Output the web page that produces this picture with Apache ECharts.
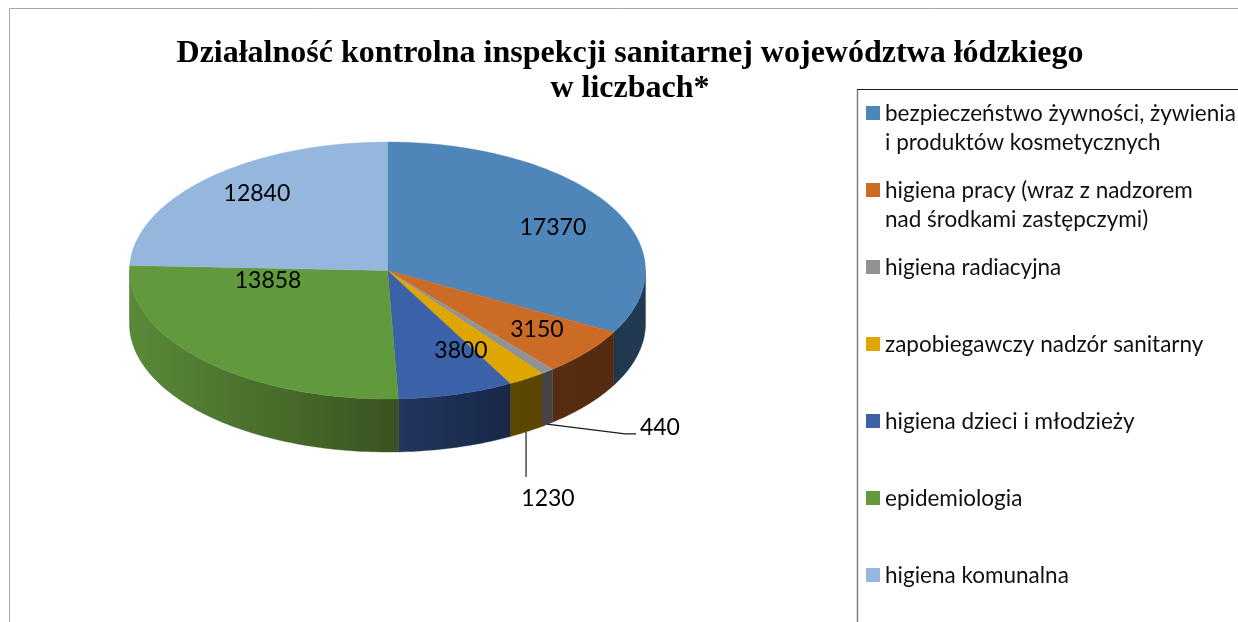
<!DOCTYPE html>
<html>
<head>
<meta charset="utf-8">
<title>Działalność kontrolna</title>
<style>
  html, body { margin: 0; padding: 0; background: #fff; }
  #chart { width: 1238px; height: 622px; }
</style>
<script src="https://cdn.jsdelivr.net/npm/echarts@6/dist/echarts.min.js"></script>
</head>
<body>
<div id="chart"></div>
<script>
// dane z wykresu
var titleText = 'Działalność kontrolna inspekcji sanitarnej województwa łódzkiego\nw liczbach*';
var categories = [
  'bezpieczeństwo żywności, żywienia\ni produktów kosmetycznych',
  'higiena pracy (wraz z nadzorem\nnad środkami zastępczymi)',
  'higiena radiacyjna',
  'zapobiegawczy nadzór sanitarny',
  'higiena dzieci i młodzieży',
  'epidemiologia',
  'higiena komunalna'
];
var values = [17370, 3150, 440, 1230, 3800, 13858, 12840];

// kolory: gora plastra i sciana boczna (lewa, prawa)
var topColors = ['#4e86b9', '#cc6b26', '#929292', '#e0a600', '#3b61a8', '#619a3c', '#96b7dd'];
var wallColors = [
  ['#1f3850', '#223a50'],
  ['#582c10', '#542b10'],
  ['#444444', '#444444'],
  ['#5c4800', '#5a4600'],
  ['#22365e', '#172848'],
  ['#5a8a38', '#3a5320'],
  ['#5a7ba0', '#5a7ba0']
];

// polozenie etykiet i linii odniesienia, w jednostkach osi (kolo jednostkowe)
var labelPos = [[0.641, 0.346], [0.579, -0.447], [1.056, -1.21], [0.622, -1.763], [0.285, -0.611], [-0.463, -0.066], [-0.506, 0.611]];
var leaders = {
  2: [[0.618, -1.195], [0.921, -1.272], [0.963, -1.272]],
  3: [[0.537, -1.257], [0.537, -1.607]]
};

var depth = 53; // wysokosc sciany w px
var total = values.reduce(function (a, b) { return a + b; }, 0);
var starts = [];
values.reduce(function (acc, v, i) { starts[i] = acc; return acc + v; }, 0);

function toAngle(v) { return v / total * 360; }

// punkty brzegu elipsy od kata a do kata b (0 = godzina 12, zgodnie z zegarem)
function rim(api, a, b) {
  var pts = [];
  var steps = Math.max(2, Math.ceil(b - a));
  for (var i = 0; i <= steps; i++) {
    var t = (a + (b - a) * i / steps) * Math.PI / 180;
    pts.push(api.coord([Math.sin(t), Math.cos(t)]));
  }
  return pts;
}

function makeRenderItem(idx) {
  return function (params, api) {
    var a = toAngle(starts[idx]);
    var b = toAngle(starts[idx] + api.value(0));
    var children = [];

    // sciana tylko z przodu, 90-270 stopni
    var wa = Math.max(a, 90), wb = Math.min(b, 270);
    if (wb > wa) {
      var upper = rim(api, wa, wb);
      var lower = upper.map(function (p) { return [p[0], p[1] + depth]; }).reverse();
      children.push({
        type: 'polygon',
        z2: 1,
        shape: { points: upper.concat(lower) },
        style: {
          fill: {
            type: 'linear', x: 0, y: 0, x2: 1, y2: 0,
            colorStops: [
              { offset: 0, color: wallColors[idx][0] },
              { offset: 1, color: wallColors[idx][1] }
            ]
          },
          stroke: wallColors[idx][1],
          lineWidth: 0.4
        }
      });
    }

    // gorna powierzchnia
    children.push({
      type: 'polygon',
      z2: 2,
      shape: { points: [api.coord([0, 0])].concat(rim(api, a, b)) },
      style: { fill: topColors[idx], stroke: topColors[idx], lineWidth: 0.4 }
    });

    if (leaders[idx]) {
      children.push({
        type: 'polyline',
        z2: 3,
        shape: { points: leaders[idx].map(function (p) { return api.coord(p); }) },
        style: { fill: null, stroke: '#1a1a1a', lineWidth: 1.2 }
      });
    }

    var lp = api.coord(labelPos[idx]);
    children.push({
      type: 'text',
      z2: 4,
      x: lp[0],
      y: lp[1] + 1.5,
      style: {
        text: String(api.value(0)),
        fill: '#000',
        font: '23px Lato',
        align: 'center',
        verticalAlign: 'middle'
      }
    });

    return { type: 'group', children: children };
  };
}

var chart = echarts.init(document.getElementById('chart'), null, { renderer: 'canvas' });

chart.setOption({
  animation: false,
  backgroundColor: '#fff',
  title: {
    text: titleText,
    left: 630,
    top: 36,
    padding: 0,
    textAlign: 'center',
    textStyle: {
      fontFamily: 'Liberation Serif',
      fontWeight: 'bold',
      fontSize: 32,
      lineHeight: 35,
      color: '#000'
    }
  },
  legend: {
    orient: 'vertical',
    left: 866,
    top: 99,
    padding: 0,
    itemGap: 19,
    itemWidth: 14,
    itemHeight: 44,
    selectedMode: false,
    // kwadrat na wysokosci pierwszego wiersza, reszta ikony pusta
    icon: 'path://M0 0H14V14H0Z M0 44L0 44Z',
    formatter: function (name) {
      return name.indexOf('\n') < 0 ? name + '\n ' : name;
    },
    textStyle: {
      fontFamily: 'Lato',
      fontSize: 22.5,
      lineHeight: 29,
      color: '#111'
    },
    data: categories
  },
  grid: { left: 129.5, top: 142, width: 516, height: 257 },
  xAxis: { type: 'value', min: -1, max: 1, show: false },
  yAxis: { type: 'value', min: -1, max: 1, show: false },
  graphic: [
    {
      type: 'polyline',
      shape: { points: [[9.5, 622], [9.5, 8.5], [1238, 8.5]] },
      style: { fill: null, stroke: '#a6a6a6', lineWidth: 1 }
    },
    {
      type: 'line',
      shape: { x1: 857.5, y1: 89, x2: 857.5, y2: 622 },
      style: { stroke: '#7f7f7f', lineWidth: 1.5 }
    },
    {
      type: 'line',
      shape: { x1: 857, y1: 89.5, x2: 1238, y2: 89.5 },
      style: { stroke: '#222', lineWidth: 1 }
    }
  ],
  series: categories.map(function (name, i) {
    return {
      type: 'custom',
      name: name,
      clip: false,
      silent: true,
      itemStyle: { color: topColors[i] },
      renderItem: makeRenderItem(i),
      encode: { x: 1, y: 2 },
      data: [[values[i], 0, 0]]
    };
  })
});
</script>
</body>
</html>
